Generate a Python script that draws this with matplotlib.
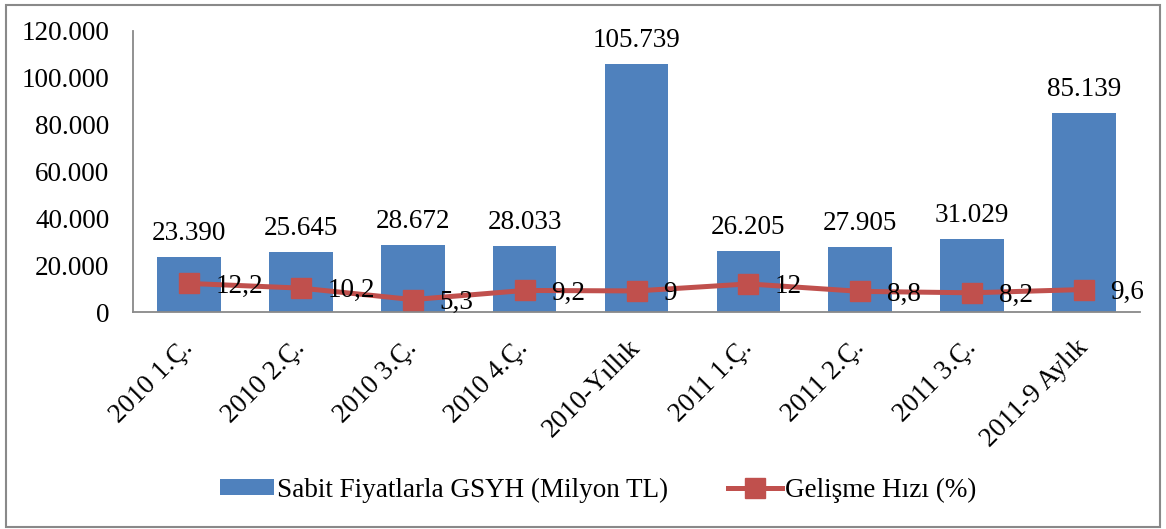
import matplotlib.pyplot as plt
from matplotlib.patches import Rectangle
from matplotlib.ticker import FuncFormatter

plt.rcParams['font.family'] = ['Liberation Serif', 'DejaVu Serif']

categories = ['2010 1.Ç.', '2010 2.Ç.', '2010 3.Ç.', '2010 4.Ç.', '2010-Yıllık',
              '2011 1.Ç.', '2011 2.Ç.', '2011 3.Ç.', '2011-9 Aylık']
gsyh = [23390, 25645, 28672, 28033, 105739, 26205, 27905, 31029, 85139]
hiz = [12.2, 10.2, 5.3, 9.2, 9, 12, 8.8, 8.2, 9.6]

blue = '#4F81BD'
red = '#C0504D'
grey = '#898989'
fs = 19.5

fig = plt.figure(figsize=(11.66, 5.29), dpi=100)
ax = fig.add_axes([133/1166, 1 - 312/529, (1140 - 133)/1166, (312 - 31)/529])
x = list(range(len(categories)))

bars = ax.bar(x, gsyh, width=0.57, color=blue, label='Sabit Fiyatlarla GSYH (Milyon TL)', zorder=2)
ax.set_xlim(-0.5, len(categories) - 0.5)
ax.set_ylim(0, 120000)
ax.set_yticks(range(0, 120001, 20000))
ax.yaxis.set_major_formatter(FuncFormatter(lambda v, p: f'{int(v):,}'.replace(',', '.')))
ax.tick_params(axis='y', length=0, pad=17, labelsize=fs)
ax.tick_params(axis='x', length=0, pad=23, labelsize=fs)
ax.set_xticks(x)
ax.set_xticklabels(categories, rotation=45, ha='right', va='center', rotation_mode='anchor')
for side in ['top', 'right']:
    ax.spines[side].set_visible(False)
for side in ['left', 'bottom']:
    ax.spines[side].set_color(grey)
    ax.spines[side].set_linewidth(1.3)

for xi, v in zip(x, gsyh):
    ax.annotate(f'{v:,}'.replace(',', '.'), (xi, v), xytext=(0, 8), textcoords='offset points',
                ha='center', va='bottom', fontsize=fs)

ax2 = ax.twinx()
ax2.set_ylim(0, 120)
ax2.axis('off')
line, = ax2.plot(x, hiz, color=red, lw=3.6, marker='s', markersize=14, zorder=3,
                 label='Gelişme Hızı (%)')
for xi, v in zip(x, hiz):
    txt = (f'{v:g}').replace('.', ',')
    ax2.annotate(txt, (xi, v), xytext=(19, -2), textcoords='offset points',
                 ha='left', va='center', fontsize=fs, zorder=4)

fig.legend([bars, line], [bars.get_label(), line.get_label()], loc='center',
           bbox_to_anchor=(598/1166, 1 - 490/529), ncol=2, frameon=False,
           fontsize=fs, handlelength=2.0, handleheight=0.55, handletextpad=0.1,
           columnspacing=2.2)

fig.patches.append(Rectangle((6/1166, 2/529), 1154/1166, 522/529, transform=fig.transFigure,
                             fill=False, edgecolor=grey, lw=1.5))

fig.savefig('out.png', dpi=100)
